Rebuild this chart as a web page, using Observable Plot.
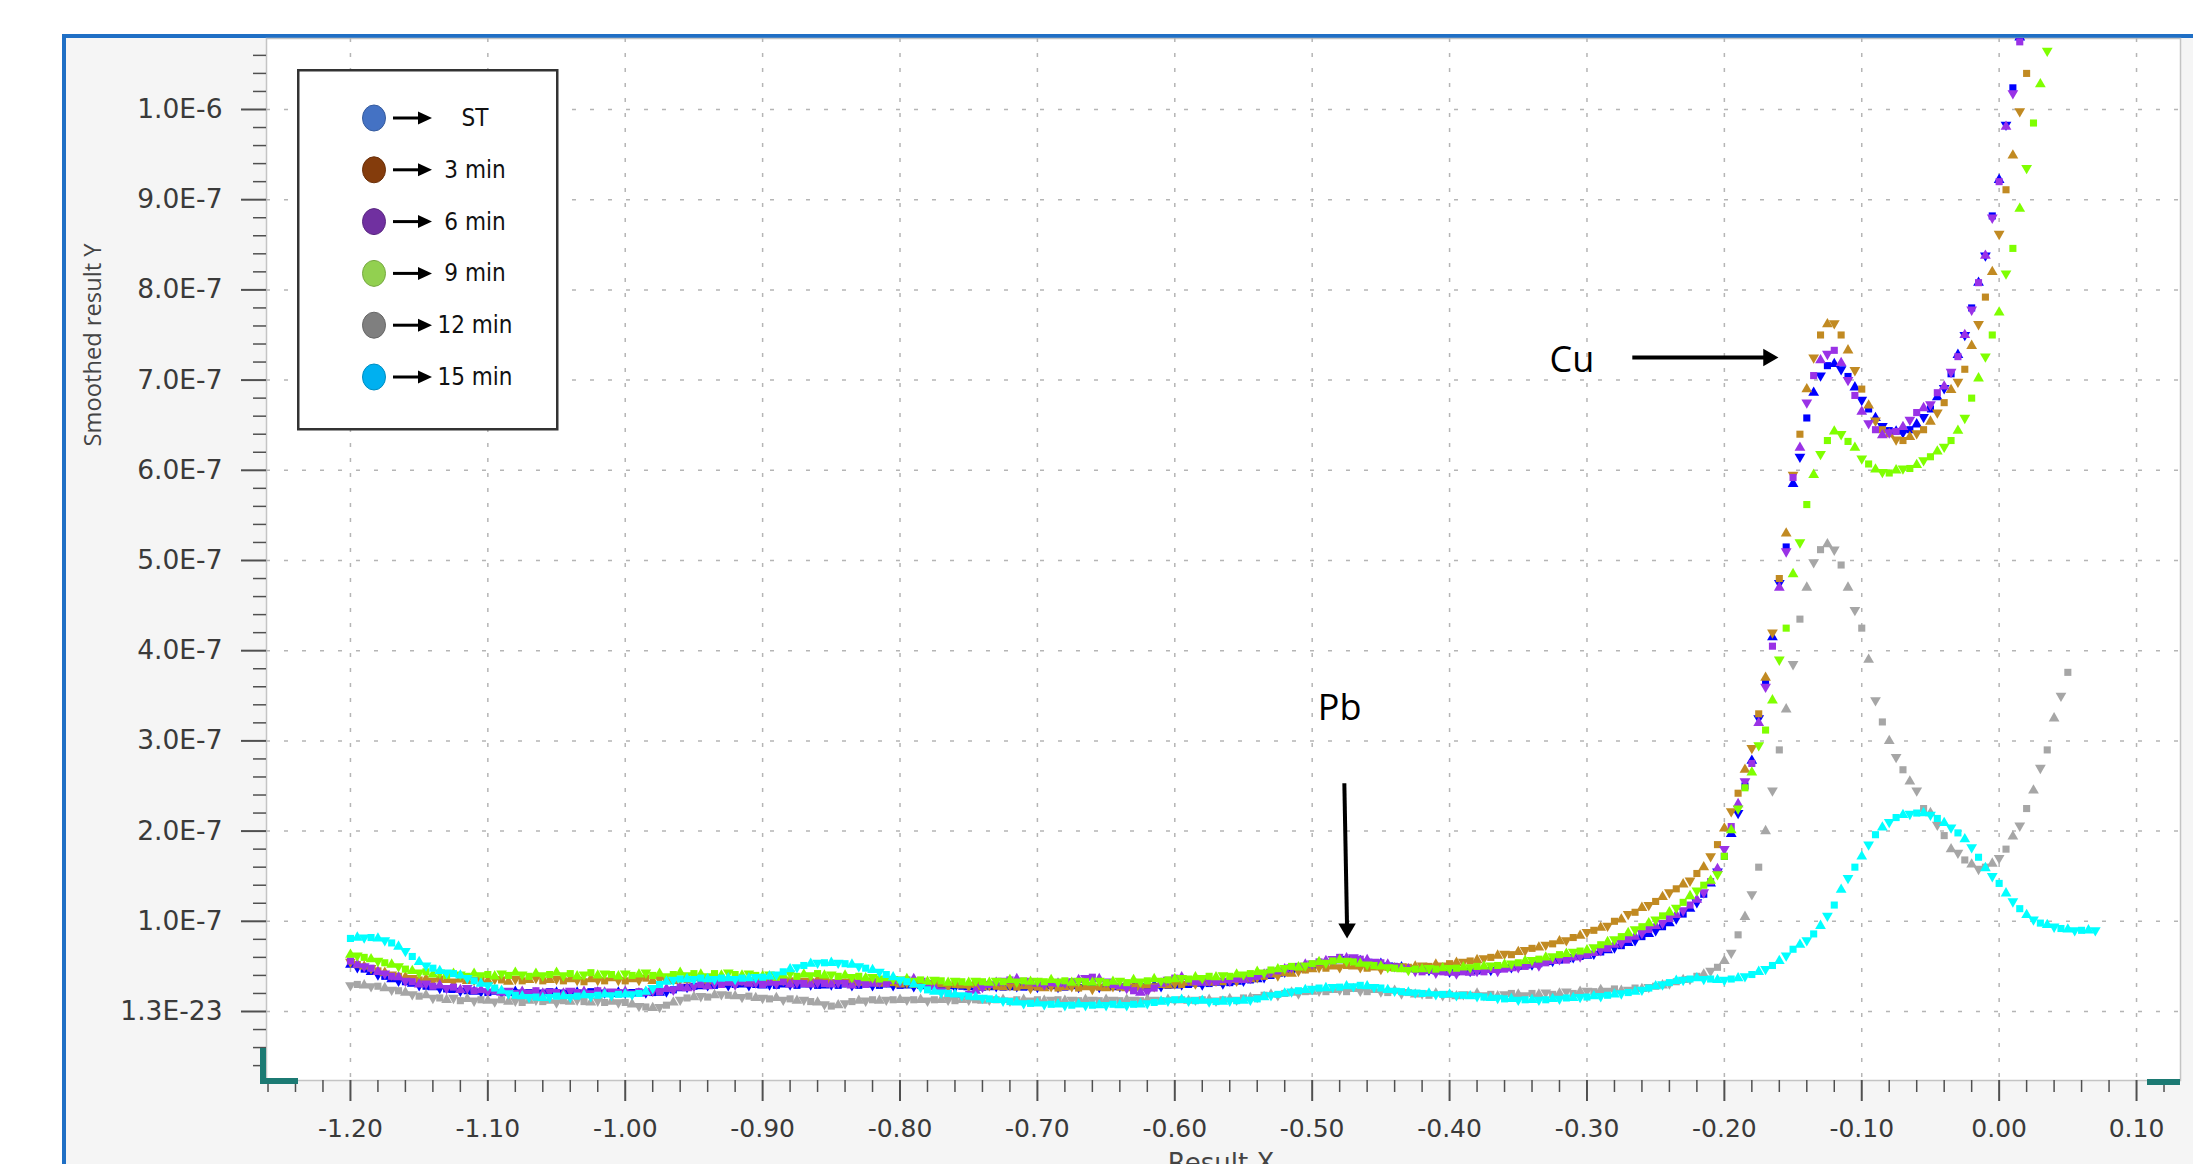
<!DOCTYPE html>
<html>
<head>
<meta charset="utf-8">
<script src="https://cdn.jsdelivr.net/npm/d3@7"></script>
<script src="https://cdn.jsdelivr.net/npm/@observablehq/plot@0.6"></script>
<style>
html, body { margin: 0; padding: 0; background: #fff; width: 2193px; height: 1164px; overflow: hidden; }
#root { position: relative; width: 2193px; height: 1164px; }
#panel { position: absolute; left: 62px; top: 34px; right: 0; bottom: 0; background: #f5f5f5;
  border-top: 4px solid #1f6fc5; border-left: 4px solid #1f6fc5; }
#chart { position: absolute; left: 0; top: 0; }
#chart svg { background: transparent; }
#legend { position: absolute; left: 297px; top: 69px; }
.ytitle { position: absolute; left: 92px; top: 345px; transform: translate(-50%, -50%) rotate(-90deg);
  font: 23.7px "Open Sans", "Noto Sans", sans-serif; color: #444; white-space: nowrap; }
.xtitle { position: absolute; left: 1221px; top: 1150px; transform: translateX(-50%);
  font: 26px/26px "DejaVu Sans", sans-serif; color: #444; white-space: nowrap; }
.deco { position: absolute; background: #1c7a73; }
</style>
</head>
<body>
<div id="root">
  <div id="panel"></div>
  <div id="chart"></div>
  <div class="deco" style="left:260px;top:1048px;width:6px;height:36px;"></div>
  <div class="deco" style="left:260px;top:1078px;width:38px;height:6px;"></div>
  <div class="deco" style="left:2147px;top:1079px;width:33px;height:6px;"></div>
  <div id="legend"></div>
  <div class="ytitle">Smoothed result Y</div>
  <div class="xtitle">Result X</div>
</div>
<script>
// ---------- DATA (y values in units of 1E-7) ----------
const potential = [
-1.200,-1.195,-1.190,-1.185,-1.180,-1.175,-1.170,-1.165,-1.160,-1.155,-1.150,-1.145,-1.140,-1.135,-1.130,-1.125,-1.120,-1.115,-1.110,-1.105,
-1.100,-1.095,-1.090,-1.085,-1.080,-1.075,-1.070,-1.065,-1.060,-1.055,-1.050,-1.045,-1.040,-1.035,-1.030,-1.025,-1.020,-1.015,-1.010,-1.005,
-1.000,-0.995,-0.990,-0.985,-0.980,-0.975,-0.970,-0.965,-0.960,-0.955,-0.950,-0.945,-0.940,-0.935,-0.930,-0.925,-0.920,-0.915,-0.910,-0.905,
-0.900,-0.895,-0.890,-0.885,-0.880,-0.875,-0.870,-0.865,-0.860,-0.855,-0.850,-0.845,-0.840,-0.835,-0.830,-0.825,-0.820,-0.815,-0.810,-0.805,
-0.800,-0.795,-0.790,-0.785,-0.780,-0.775,-0.770,-0.765,-0.760,-0.755,-0.750,-0.745,-0.740,-0.735,-0.730,-0.725,-0.720,-0.715,-0.710,-0.705,
-0.700,-0.695,-0.690,-0.685,-0.680,-0.675,-0.670,-0.665,-0.660,-0.655,-0.650,-0.645,-0.640,-0.635,-0.630,-0.625,-0.620,-0.615,-0.610,-0.605,
-0.600,-0.595,-0.590,-0.585,-0.580,-0.575,-0.570,-0.565,-0.560,-0.555,-0.550,-0.545,-0.540,-0.535,-0.530,-0.525,-0.520,-0.515,-0.510,-0.505,
-0.500,-0.495,-0.490,-0.485,-0.480,-0.475,-0.470,-0.465,-0.460,-0.455,-0.450,-0.445,-0.440,-0.435,-0.430,-0.425,-0.420,-0.415,-0.410,-0.405,
-0.400,-0.395,-0.390,-0.385,-0.380,-0.375,-0.370,-0.365,-0.360,-0.355,-0.350,-0.345,-0.340,-0.335,-0.330,-0.325,-0.320,-0.315,-0.310,-0.305,
-0.300,-0.295,-0.290,-0.285,-0.280,-0.275,-0.270,-0.265,-0.260,-0.255,-0.250,-0.245,-0.240,-0.235,-0.230,-0.225,-0.220,-0.215,-0.210,-0.205,
-0.200,-0.195,-0.190,-0.185,-0.180,-0.175,-0.170,-0.165,-0.160,-0.155,-0.150,-0.145,-0.140,-0.135,-0.130,-0.125,-0.120,-0.115,-0.110,-0.105,
-0.100,-0.095,-0.090,-0.085,-0.080,-0.075,-0.070,-0.065,-0.060,-0.055,-0.050,-0.045,-0.040,-0.035,-0.030,-0.025,-0.020,-0.015,-0.010,-0.005,
0.000,0.005,0.010,0.015,0.020,0.025,0.030,0.035,0.040,0.045,0.050,0.055,0.060,0.065,0.070
];

const ST = [
0.52,0.49,0.47,0.44,0.41,0.39,0.36,0.34,0.33,0.31,0.29,0.28,0.27,0.26,0.25,0.24,0.23,0.23,0.22,0.22,
0.21,0.22,0.21,0.21,0.22,0.21,0.21,0.20,0.21,0.22,0.21,0.21,0.20,0.21,0.21,0.22,0.21,0.21,0.20,0.21,
0.21,0.21,0.20,0.21,0.21,0.21,0.22,0.24,0.26,0.27,0.28,0.28,0.29,0.29,0.30,0.29,0.30,0.30,0.29,0.30,
0.29,0.30,0.29,0.30,0.30,0.29,0.30,0.30,0.29,0.29,0.30,0.29,0.30,0.29,0.29,0.30,0.29,0.29,0.30,0.29,
0.29,0.29,0.28,0.29,0.28,0.28,0.27,0.28,0.27,0.28,0.27,0.28,0.27,0.27,0.28,0.27,0.27,0.28,0.27,0.27,
0.27,0.27,0.28,0.27,0.27,0.28,0.27,0.28,0.28,0.27,0.28,0.27,0.28,0.28,0.27,0.28,0.28,0.29,0.28,0.29,
0.29,0.30,0.30,0.31,0.30,0.31,0.32,0.31,0.32,0.33,0.34,0.35,0.36,0.38,0.40,0.42,0.44,0.46,0.47,0.49,
0.50,0.52,0.54,0.56,0.57,0.58,0.57,0.56,0.55,0.54,0.53,0.51,0.50,0.49,0.48,0.47,0.46,0.46,0.45,0.45,
0.44,0.44,0.44,0.45,0.45,0.46,0.46,0.47,0.48,0.49,0.50,0.51,0.52,0.53,0.55,0.56,0.57,0.58,0.60,0.61,
0.62,0.64,0.66,0.68,0.71,0.73,0.76,0.79,0.83,0.86,0.90,0.94,0.98,1.03,1.08,1.14,1.21,1.30,1.42,1.55,
1.72,1.97,2.20,2.50,2.78,3.25,3.65,4.15,4.75,5.15,5.85,6.15,6.58,6.86,7.05,7.16,7.18,7.12,7.04,6.92,
6.78,6.68,6.58,6.49,6.44,6.43,6.42,6.45,6.51,6.59,6.68,6.81,6.91,7.07,7.28,7.50,7.80,8.08,8.38,8.82,
9.22,9.83,10.24,10.80
];

const min3 = [
0.55,0.52,0.50,0.48,0.45,0.43,0.41,0.39,0.38,0.37,0.35,0.36,0.34,0.36,0.35,0.33,0.36,0.34,0.35,0.36,
0.34,0.36,0.35,0.33,0.36,0.34,0.35,0.37,0.34,0.35,0.36,0.34,0.36,0.35,0.33,0.36,0.35,0.34,0.37,0.35,
0.34,0.36,0.35,0.37,0.34,0.36,0.35,0.34,0.36,0.35,0.37,0.35,0.34,0.36,0.35,0.33,0.36,0.35,0.34,0.35,
0.34,0.35,0.33,0.35,0.34,0.36,0.34,0.33,0.35,0.34,0.32,0.34,0.33,0.35,0.32,0.34,0.33,0.31,0.33,0.32,
0.30,0.32,0.30,0.31,0.29,0.31,0.30,0.28,0.30,0.29,0.28,0.30,0.27,0.29,0.28,0.27,0.29,0.27,0.28,0.26,
0.27,0.26,0.28,0.26,0.27,0.28,0.26,0.27,0.25,0.27,0.26,0.28,0.27,0.26,0.28,0.27,0.29,0.28,0.30,0.29,
0.31,0.30,0.32,0.31,0.33,0.32,0.34,0.33,0.35,0.34,0.37,0.36,0.38,0.39,0.41,0.40,0.43,0.42,0.45,0.46,
0.47,0.49,0.48,0.50,0.49,0.51,0.50,0.49,0.48,0.49,0.47,0.49,0.48,0.50,0.49,0.50,0.51,0.50,0.52,0.51,
0.53,0.54,0.55,0.56,0.57,0.59,0.60,0.62,0.64,0.63,0.66,0.68,0.70,0.71,0.74,0.75,0.78,0.79,0.82,0.84,
0.88,0.90,0.93,0.95,1.00,1.02,1.08,1.10,1.15,1.18,1.22,1.27,1.32,1.36,1.41,1.45,1.53,1.60,1.72,1.85,
2.03,2.22,2.42,2.68,2.92,3.30,3.70,4.20,4.80,5.30,5.95,6.40,6.90,7.25,7.50,7.62,7.63,7.50,7.33,7.11,
6.90,6.72,6.55,6.45,6.40,6.34,6.33,6.37,6.41,6.45,6.54,6.64,6.75,6.89,6.98,7.12,7.38,7.62,7.92,8.20,
8.62,9.11,9.49,9.98,10.40
];

const min6 = [
0.56,0.52,0.50,0.48,0.44,0.42,0.39,0.38,0.34,0.33,0.30,0.31,0.28,0.29,0.26,0.27,0.24,0.26,0.23,0.24,
0.22,0.23,0.21,0.23,0.20,0.22,0.21,0.23,0.20,0.22,0.21,0.20,0.23,0.21,0.22,0.20,0.23,0.21,0.22,0.21,
0.22,0.20,0.22,0.21,0.23,0.22,0.25,0.24,0.27,0.26,0.28,0.30,0.28,0.31,0.30,0.32,0.30,0.33,0.31,0.32,
0.30,0.32,0.31,0.33,0.30,0.32,0.31,0.30,0.32,0.31,0.30,0.32,0.31,0.29,0.32,0.30,0.31,0.33,0.31,0.34,
0.33,0.35,0.36,0.34,0.31,0.27,0.23,0.20,0.18,0.17,0.19,0.23,0.27,0.30,0.32,0.34,0.35,0.36,0.34,0.33,
0.31,0.30,0.32,0.31,0.32,0.33,0.35,0.37,0.38,0.36,0.33,0.30,0.28,0.26,0.23,0.21,0.22,0.26,0.31,0.35,
0.37,0.38,0.35,0.33,0.32,0.34,0.33,0.35,0.34,0.36,0.35,0.37,0.39,0.41,0.44,0.45,0.47,0.49,0.50,0.52,
0.53,0.55,0.56,0.58,0.60,0.59,0.60,0.58,0.57,0.55,0.54,0.52,0.50,0.48,0.47,0.45,0.44,0.45,0.43,0.44,
0.43,0.42,0.44,0.43,0.45,0.44,0.46,0.45,0.47,0.48,0.49,0.50,0.52,0.51,0.54,0.56,0.58,0.57,0.60,0.61,
0.63,0.65,0.68,0.70,0.74,0.76,0.80,0.83,0.87,0.91,0.95,0.98,1.03,1.07,1.12,1.18,1.24,1.32,1.44,1.58,
1.80,2.05,2.30,2.55,2.75,3.20,3.60,4.05,4.70,5.10,5.92,6.25,6.75,7.05,7.22,7.29,7.33,7.19,7.00,6.83,
6.65,6.52,6.45,6.39,6.42,6.43,6.48,6.56,6.64,6.69,6.73,6.86,6.93,7.09,7.26,7.50,7.78,8.08,8.38,8.80,
9.20,9.81,10.18,10.75
];

const min9 = [
0.63,0.62,0.60,0.58,0.56,0.54,0.52,0.50,0.47,0.45,0.43,0.44,0.41,0.43,0.40,0.42,0.41,0.39,0.42,0.40,
0.41,0.39,0.42,0.40,0.43,0.41,0.39,0.42,0.40,0.41,0.43,0.40,0.42,0.39,0.41,0.43,0.40,0.42,0.41,0.39,
0.42,0.40,0.41,0.43,0.40,0.42,0.39,0.41,0.43,0.40,0.42,0.41,0.39,0.42,0.40,0.43,0.41,0.40,0.42,0.40,
0.39,0.41,0.38,0.40,0.42,0.39,0.41,0.40,0.42,0.40,0.41,0.39,0.40,0.38,0.39,0.37,0.38,0.36,0.37,0.36,
0.35,0.36,0.34,0.35,0.33,0.35,0.34,0.32,0.34,0.33,0.32,0.34,0.33,0.32,0.34,0.33,0.35,0.33,0.34,0.33,
0.34,0.33,0.35,0.33,0.34,0.32,0.34,0.33,0.32,0.34,0.32,0.33,0.34,0.32,0.35,0.33,0.34,0.36,0.34,0.35,
0.36,0.37,0.36,0.38,0.37,0.39,0.38,0.40,0.39,0.41,0.41,0.42,0.44,0.43,0.46,0.47,0.48,0.50,0.49,0.51,
0.53,0.55,0.54,0.56,0.57,0.56,0.55,0.53,0.52,0.51,0.50,0.49,0.48,0.47,0.46,0.47,0.47,0.48,0.47,0.48,
0.48,0.48,0.49,0.49,0.50,0.50,0.51,0.51,0.52,0.53,0.54,0.56,0.57,0.58,0.60,0.61,0.63,0.64,0.66,0.67,
0.68,0.71,0.74,0.77,0.80,0.83,0.87,0.91,0.94,0.98,1.02,1.06,1.10,1.15,1.21,1.28,1.34,1.40,1.45,1.52,
1.72,2.01,2.25,2.48,2.65,2.95,3.12,3.45,3.90,4.25,4.85,5.20,5.62,5.95,6.18,6.33,6.43,6.40,6.32,6.25,
6.13,6.07,6.01,5.98,5.97,6.00,6.02,6.02,6.06,6.11,6.15,6.21,6.26,6.33,6.44,6.58,6.80,7.02,7.26,7.50,
7.75,8.18,8.46,8.90,9.35,9.85,10.28,10.65
];

const min12 = [
0.29,0.30,0.29,0.28,0.28,0.26,0.24,0.23,0.21,0.19,0.17,0.18,0.15,0.15,0.13,0.15,0.12,0.14,0.12,0.13,
0.12,0.11,0.13,0.11,0.12,0.10,0.12,0.13,0.11,0.12,0.10,0.12,0.11,0.13,0.11,0.10,0.12,0.10,0.11,0.10,
0.10,0.08,0.06,0.05,0.04,0.05,0.07,0.10,0.13,0.15,0.16,0.17,0.16,0.18,0.19,0.18,0.17,0.16,0.17,0.15,
0.15,0.14,0.15,0.13,0.14,0.12,0.13,0.11,0.10,0.08,0.06,0.07,0.09,0.11,0.12,0.12,0.13,0.12,0.13,0.13,
0.13,0.13,0.13,0.13,0.12,0.13,0.13,0.13,0.12,0.13,0.13,0.13,0.12,0.13,0.13,0.13,0.12,0.13,0.13,0.12,
0.13,0.12,0.13,0.13,0.12,0.13,0.12,0.13,0.13,0.12,0.13,0.13,0.12,0.13,0.13,0.12,0.13,0.13,0.12,0.13,
0.13,0.13,0.12,0.13,0.13,0.13,0.12,0.13,0.14,0.13,0.15,0.15,0.16,0.18,0.19,0.18,0.20,0.21,0.20,0.22,
0.22,0.23,0.22,0.24,0.24,0.22,0.25,0.23,0.22,0.24,0.22,0.21,0.23,0.20,0.21,0.19,0.20,0.18,0.20,0.18,
0.19,0.17,0.19,0.18,0.20,0.18,0.19,0.17,0.19,0.20,0.19,0.18,0.20,0.19,0.21,0.19,0.20,0.22,0.20,0.22,
0.23,0.22,0.24,0.23,0.25,0.23,0.24,0.26,0.25,0.27,0.28,0.29,0.31,0.33,0.35,0.36,0.39,0.41,0.45,0.49,
0.56,0.65,0.85,1.05,1.30,1.60,2.00,2.45,2.90,3.35,3.85,4.35,4.70,4.98,5.12,5.18,5.12,4.95,4.70,4.45,
4.25,3.90,3.45,3.21,3.00,2.82,2.68,2.55,2.45,2.25,2.20,2.07,1.95,1.80,1.76,1.68,1.63,1.58,1.60,1.64,
1.70,1.80,1.94,2.06,2.25,2.45,2.70,2.90,3.25,3.50,3.76
];

const min15 = [
0.81,0.82,0.82,0.82,0.81,0.79,0.76,0.72,0.67,0.61,0.55,0.51,0.48,0.45,0.43,0.42,0.40,0.37,0.34,0.31,
0.29,0.26,0.23,0.20,0.18,0.17,0.16,0.16,0.15,0.16,0.17,0.17,0.16,0.17,0.18,0.17,0.18,0.19,0.18,0.19,
0.19,0.19,0.20,0.22,0.26,0.30,0.33,0.35,0.36,0.36,0.36,0.37,0.36,0.36,0.37,0.37,0.36,0.37,0.37,0.38,
0.38,0.39,0.41,0.44,0.47,0.49,0.51,0.53,0.54,0.54,0.54,0.54,0.53,0.52,0.50,0.48,0.46,0.44,0.41,0.38,
0.35,0.33,0.30,0.27,0.24,0.22,0.21,0.20,0.19,0.18,0.17,0.16,0.15,0.14,0.13,0.12,0.11,0.10,0.09,0.09,
0.09,0.08,0.08,0.08,0.07,0.07,0.08,0.07,0.07,0.07,0.07,0.08,0.07,0.07,0.08,0.08,0.09,0.10,0.11,0.12,
0.13,0.13,0.12,0.12,0.12,0.11,0.11,0.11,0.12,0.12,0.12,0.13,0.14,0.16,0.18,0.19,0.20,0.22,0.23,0.24,
0.25,0.26,0.26,0.27,0.27,0.28,0.28,0.29,0.28,0.27,0.26,0.24,0.23,0.22,0.21,0.21,0.20,0.20,0.19,0.19,
0.19,0.18,0.18,0.17,0.17,0.16,0.15,0.15,0.14,0.14,0.13,0.13,0.13,0.13,0.13,0.14,0.14,0.15,0.15,0.16,
0.16,0.17,0.17,0.18,0.19,0.20,0.21,0.22,0.24,0.26,0.28,0.30,0.32,0.34,0.35,0.36,0.37,0.36,0.36,0.35,
0.35,0.36,0.37,0.39,0.41,0.44,0.47,0.51,0.56,0.62,0.69,0.74,0.79,0.86,0.95,1.06,1.18,1.35,1.48,1.60,
1.72,1.85,1.96,2.04,2.10,2.15,2.18,2.19,2.20,2.20,2.18,2.14,2.09,2.04,1.98,1.91,1.82,1.71,1.59,1.50,
1.42,1.31,1.22,1.14,1.07,1.02,0.98,0.96,0.94,0.92,0.91,0.90,0.90,0.90,0.90
];

const seriesNames = ["ST", "3 min", "6 min", "9 min", "12 min", "15 min"];
const seriesValues = [ST, min3, min6, min9, min12, min15];
const markerColors = ["#0000ff", "#c18a22", "#9a32e6", "#7fff00", "#a6a6a6", "#00ffff"];
const legendColors = ["#4472c4", "#843c0c", "#7030a0", "#92d050", "#7f7f7f", "#00b0f0"];

const xTicks = [-1.2, -1.1, -1.0, -0.9, -0.8, -0.7, -0.6, -0.5, -0.4, -0.3, -0.2, -0.1, 0.0, 0.1];
const xTickLabels = ["-1.20", "-1.10", "-1.00", "-0.90", "-0.80", "-0.70", "-0.60", "-0.50", "-0.40", "-0.30", "-0.20", "-0.10", "0.00", "0.10"];
const yTicks = [0, 1, 2, 3, 4, 5, 6, 7, 8, 9, 10];
const yTickLabels = ["1.3E-23", "1.0E-7", "2.0E-7", "3.0E-7", "4.0E-7", "5.0E-7", "6.0E-7", "7.0E-7", "8.0E-7", "9.0E-7", "1.0E-6"];

const noteLabels = ["Cu", "Pb"];
const noteX = [-0.311, -0.480];
const noteY = [7.22, 3.36];
const arrowX1 = [-0.267, -0.4766];
const arrowY1 = [7.25, 2.53];
const arrowX2 = [-0.168, -0.4746];
const arrowY2 = [7.25, 0.92];
const arrowRotate = [90, 180];

// ---------- BUILD ----------
const points = seriesValues.flatMap((vals, s) => vals.map((v, i) => ({
  x: potential[i], y: v, color: markerColors[s],
  symbol: (i + s) % 3 === 2 ? "square" : "triangle",
  rotate: (i + s) % 3 === 1 ? 180 : 0
})));

const xLabel = new Map(xTicks.map((d, i) => [d, xTickLabels[i]]));
const yLabel = new Map(yTicks.map((d, i) => [d, yTickLabels[i]]));
const xMinor = d3.range(-63, 7).map(k => +(k * 0.02).toFixed(2)).filter(v => !xTicks.some(t => Math.abs(t - v) < 1e-9));
const yMinor = d3.range(-3, 54).map(k => +(k * 0.2).toFixed(1)).filter(v => !yTicks.includes(v));

const notes = noteLabels.map((t, i) => ({t, x: noteX[i], y: noteY[i]}));
const arrows = arrowX1.map((d, i) => ({x1: d, y1: arrowY1[i], x2: arrowX2[i], y2: arrowY2[i], r: arrowRotate[i]}));

const chart = Plot.plot({
  width: 2193,
  height: 1164,
  marginLeft: 266,
  marginRight: 13,
  marginTop: 38,
  marginBottom: 84,
  style: "background: transparent; color: #505050; font-family: 'DejaVu Sans', sans-serif; overflow: visible;",
  x: {domain: [-1.2611, 0.1320]},
  y: {domain: [-0.765, 10.787]},
  marks: [
    Plot.frame({fill: "white", stroke: "#c4c4c4", strokeWidth: 1.5}),
    Plot.gridX(xTicks, {stroke: "#b5b5b5", strokeOpacity: 1, strokeWidth: 1.5, strokeDasharray: "4,11"}),
    Plot.gridY(yTicks, {stroke: "#b5b5b5", strokeOpacity: 1, strokeWidth: 1.5, strokeDasharray: "4,14"}),
    Plot.axisY(yMinor, {tickSize: 13, tickFormat: () => "", label: null, strokeWidth: 1.5}),
    Plot.axisY(yTicks, {tickSize: 25, tickPadding: 19, tickFormat: d => yLabel.get(d), fontSize: 26.5, fill: "#3a3a3a", label: null, strokeWidth: 2}),
    Plot.axisX(xMinor, {tickSize: 12, tickFormat: () => "", label: null, strokeWidth: 1.5}),
    Plot.axisX(xTicks, {tickSize: 21, tickPadding: 18, tickFormat: d => xLabel.get(d), fontSize: 25, fill: "#3a3a3a", label: null, strokeWidth: 2}),
    Plot.dot(points, {x: "x", y: "y", fill: "color", symbol: "symbol", rotate: "rotate", r: 4, clip: true}),
    Plot.link(arrows, {x1: "x1", y1: "y1", x2: "x2", y2: "y2", stroke: "black", strokeWidth: 4}),
    Plot.dot(arrows, {x: "x2", y: "y2", symbol: "triangle", rotate: "r", r: 6.5, fill: "black"}),
    Plot.text(notes, {x: "x", y: "y", text: "t", fontSize: 36, fontFamily: "'Open Sans', sans-serif", fill: "black"})
  ]
});
document.getElementById("chart").appendChild(chart);

// ---------- LEGEND ----------
const lg = d3.select("#legend").append("svg").attr("width", 262).attr("height", 362);
lg.append("rect").attr("x", 1.25).attr("y", 1.25).attr("width", 259).attr("height", 359)
  .attr("fill", "white").attr("stroke", "#333").attr("stroke-width", 2.5);
seriesNames.forEach((name, k) => {
  const cy = 49 + k * 51.8;
  const g = lg.append("g");
  g.append("ellipse").attr("cx", 77).attr("cy", cy).attr("rx", 11.5).attr("ry", 13)
    .attr("fill", legendColors[k]).attr("stroke", d3.color(legendColors[k]).darker(0.6)).attr("stroke-width", 1);
  g.append("line").attr("x1", 96).attr("x2", 124).attr("y1", cy).attr("y2", cy)
    .attr("stroke", "black").attr("stroke-width", 3);
  g.append("path").attr("d", `M121,${cy - 6.5}L135,${cy}L121,${cy + 6.5}Z`).attr("fill", "black");
  g.append("text").attr("x", 178).attr("y", cy).attr("text-anchor", "middle").attr("dominant-baseline", "central")
    .attr("font-family", "'Liberation Sans Narrow', 'DejaVu Sans Condensed', sans-serif").attr("font-size", 24)
    .attr("fill", "#111").text(name);
});
</script>
</body>
</html>
